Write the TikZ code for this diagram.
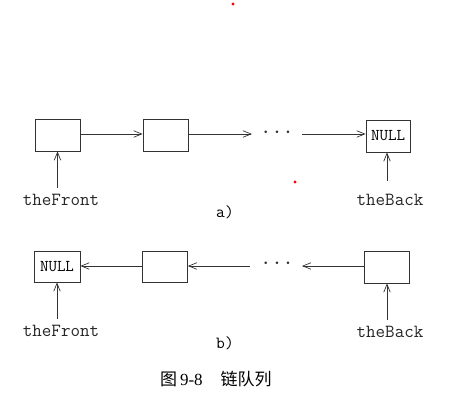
\documentclass[tikz,border=0pt]{standalone}
\usepackage{fontspec}
\setmainfont{Liberation Serif}
\newfontfamily\monof{Latin Modern Mono}
\newfontfamily\cjk{Noto Sans CJK SC}
\usetikzlibrary{arrows.meta}
\begin{document}
\begin{tikzpicture}[x=1pt,y=-1pt,
  cell/.style={draw=black!80,line width=0.7pt,minimum width=45pt,minimum height=32pt,inner sep=0pt,font=\monof\fontsize{16.5}{16.5}\selectfont},
  lbl/.style={font=\monof\fontsize{18.5}{18.5}\selectfont,inner sep=1pt,text=black!85},
  dots/.style={font=\fontsize{24}{24}\selectfont,text=black!80},
  link/.style={draw=black!80,line width=0.7pt,-{Straight Barb[length=8pt,width=6.5pt]}}]
\useasboundingbox (0,0) rectangle (453,409);
% stray red dots of the reference
\fill[red] (233,4) circle (1.6);
\fill[red] (295,182) circle (1.6);
% a)
\node[cell] (a1) at (57.5,135) {};
\node[cell] (a2) at (165.5,135) {};
\node[cell,minimum width=44pt] (an) at (388,136) {NULL};
\coordinate (ad1) at (252,134);
\coordinate (ad2) at (302,134);
\node[dots] (adots) at (277,133) {$\cdots$};
\draw[link] (a1.east |- 0,134) -- (a2.west |- 0,134);
\draw[link] (a2.east |- 0,134) -- (ad1);
\draw[link] (ad2) -- (an.west |- 0,134);
\node[lbl] (atf) at (61,200) {theFront};
\node[lbl] (atb) at (390,200) {theBack};
\coordinate (atfa) at (57.5,188);
\coordinate (atba) at (387,181);
\draw[link] (atfa) -- (atfa |- a1.south);
\draw[link] (atba) -- (atba |- an.south);
\node[font=\monof\fontsize{17}{17}\selectfont] (la) at (225,212) {a)};
% b)
\node[cell,minimum width=46pt,minimum height=31pt] (bn) at (57,266.5) {NULL};
\node[cell,minimum height=31pt] (b2) at (165,266.5) {};
\node[cell,minimum width=45pt] (b3) at (386.5,267) {};
\coordinate (bd1) at (250,266);
\coordinate (bd2) at (302,266);
\node[dots] (bdots) at (277,264) {$\cdots$};
\draw[link] (b2.west |- 0,266) -- (bn.east |- 0,266);
\draw[link] (bd1) -- (b2.east |- 0,266);
\draw[link] (b3.west |- 0,266) -- (bd2);
\node[lbl] (btf) at (61,331) {theFront};
\node[lbl] (btb) at (390,332) {theBack};
\coordinate (btfa) at (57,319);
\coordinate (btba) at (387,320);
\draw[link] (btfa) -- (btfa |- bn.south);
\draw[link] (btba) -- (btba |- b3.south);
\node[font=\monof\fontsize{17}{17}\selectfont] (lb) at (225,343) {b)};
% caption
\node[font=\fontsize{17}{17}\selectfont,anchor=west,inner sep=0pt] (cap) at (160,379) {{\cjk 图}\,9-8\hspace{18pt}{\cjk 链队列}};
\end{tikzpicture}
\end{document}
